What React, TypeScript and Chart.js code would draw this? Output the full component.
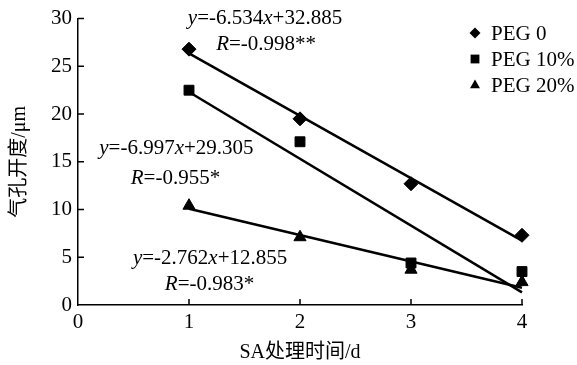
import React, { useEffect, useRef } from 'react';
import { Chart, registerables } from 'chart.js';

Chart.register(...registerables);

// ---- data ----
const days = [1, 2, 3, 4];
const peg0 = [26.8, 19.5, 12.7, 7.3];
const peg10 = [22.5, 17.1, 4.4, 3.5];
const peg20 = [10.4, 7.1, 3.7, 2.4];
const trendDays = [1, 4];
const trend0 = [26.35, 6.75];
const trend10 = [22.31, 1.32];
const trend20 = [10.09, 1.81];
const seriesNames = ['PEG 0', 'PEG 10%', 'PEG 20%'];
const xTitle = 'SA处理时间/d';
const yTitle = '气孔开度/μm';
const eq0 = [['y', true], ['=-6.534', false], ['x', true], ['+32.885', false]];
const r0 = [['R', true], ['=-0.998**', false]];
const eq10 = [['y', true], ['=-6.997', false], ['x', true], ['+29.305', false]];
const r10 = [['R', true], ['=-0.955*', false]];
const eq20 = [['y', true], ['=-2.762', false], ['x', true], ['+12.855', false]];
const r20 = [['R', true], ['=-0.983*', false]];

const FONT = '"Liberation Serif", "Times New Roman", "Noto Sans CJK SC", serif';
const FS = 21;

type Seg = (string | boolean)[];

function drawRich(ctx: CanvasRenderingContext2D, segs: Seg[], cx: number, cy: number) {
  const widths: number[] = [];
  let total = 0;
  segs.forEach((s) => {
    ctx.font = `${s[1] ? 'italic ' : ''}${FS}px ${FONT}`;
    const w = ctx.measureText(s[0] as string).width;
    widths.push(w);
    total += w;
  });
  let x = cx - total / 2;
  ctx.textBaseline = 'middle';
  ctx.textAlign = 'left';
  ctx.fillStyle = '#000';
  segs.forEach((s, i) => {
    ctx.font = `${s[1] ? 'italic ' : ''}${FS}px ${FONT}`;
    ctx.fillText(s[0] as string, x, cy);
    x += widths[i];
  });
}

function marker(ctx: CanvasRenderingContext2D, kind: number, x: number, y: number, r: number) {
  ctx.beginPath();
  if (kind === 0) {
    ctx.moveTo(x - r, y);
    ctx.lineTo(x, y - r);
    ctx.lineTo(x + r, y);
    ctx.lineTo(x, y + r);
  } else if (kind === 1) {
    const s = r * 0.8;
    ctx.rect(x - s, y - s, 2 * s, 2 * s);
  } else {
    ctx.moveTo(x, y - r);
    ctx.lineTo(x + r * 0.9, y + r * 0.6);
    ctx.lineTo(x - r * 0.9, y + r * 0.6);
  }
  ctx.closePath();
  ctx.fillStyle = '#000';
  ctx.fill();
}

const decorPlugin = {
  id: 'decor',
  afterDraw(chart: any) {
    const ctx: CanvasRenderingContext2D = chart.ctx;
    const xs = chart.scales.x;
    const ys = chart.scales.y;
    const area = chart.chartArea;
    ctx.save();
    // inward tick marks
    ctx.strokeStyle = '#000';
    ctx.lineWidth = 1.5;
    ctx.beginPath();
    ys.ticks.forEach((t: any) => {
      if (t.value === 0) return;
      const py = ys.getPixelForValue(t.value);
      ctx.moveTo(area.left, py);
      ctx.lineTo(area.left + 6, py);
    });
    xs.ticks.forEach((t: any) => {
      if (t.value === 0) return;
      const px = xs.getPixelForValue(t.value);
      ctx.moveTo(px, area.bottom);
      ctx.lineTo(px, area.bottom - 6);
    });
    ctx.stroke();

    // equation annotations (placed in data space)
    const P = (vx: number, vy: number): [number, number] => [xs.getPixelForValue(vx), ys.getPixelForValue(vy)];
    const items: [Seg[], number, number][] = [
      [eq0, 1.685, 30.0],
      [r0, 1.695, 27.3],
      [eq10, 0.887, 16.35],
      [r10, 0.878, 13.23],
      [eq20, 1.19, 4.9],
      [r20, 1.185, 2.1],
    ];
    items.forEach(([segs, vx, vy]) => {
      const [px, py] = P(vx, vy);
      drawRich(ctx, segs, px, py);
    });

    // legend
    const lx = 475;
    const ly = [33, 59, 85];
    seriesNames.forEach((name, i) => {
      marker(ctx, i, lx, ly[i], 5.5);
      ctx.font = `${FS}px ${FONT}`;
      ctx.textBaseline = 'middle';
      ctx.textAlign = 'left';
      ctx.fillStyle = '#000';
      ctx.fillText(name, lx + 16, ly[i] + 1);
    });
    ctx.restore();
  },
};

const pts = (xsArr: number[], ysArr: number[]) => xsArr.map((x, i) => ({ x, y: ysArr[i] }));

export default function App() {
  const ref = useRef<HTMLCanvasElement>(null);
  useEffect(() => {
    document.body.style.margin = '0';
    const canvas = ref.current!;
    const scatterCommon = {
      showLine: false,
      pointBackgroundColor: '#000',
      pointBorderColor: '#000',
      pointBorderWidth: 1,
      clip: false as any,
      order: 0,
    };
    const lineCommon = {
      showLine: true,
      borderColor: '#000',
      borderWidth: 2.5,
      pointRadius: 0,
      fill: false,
      clip: false as any,
      order: 1,
    };
    const chart = new Chart(canvas, {
      type: 'scatter',
      data: {
        datasets: [
          { ...scatterCommon, label: seriesNames[0], data: pts(days, peg0), pointStyle: 'rectRot', pointRadius: 7 },
          { ...scatterCommon, label: seriesNames[1], data: pts(days, peg10), pointStyle: 'rect', pointRadius: 7 },
          { ...scatterCommon, label: seriesNames[2], data: pts(days, peg20), pointStyle: 'triangle', pointRadius: 7 },
          { ...lineCommon, label: 'fit0', data: pts(trendDays, trend0) },
          { ...lineCommon, label: 'fit10', data: pts(trendDays, trend10) },
          { ...lineCommon, label: 'fit20', data: pts(trendDays, trend20) },
        ] as any,
      },
      options: {
        animation: false,
        responsive: false,
        devicePixelRatio: 1,
        layout: { padding: { left: 0, top: 17, right: 55, bottom: 0 } },
        font: { family: FONT, size: FS } as any,
        color: '#000',
        plugins: {
          legend: { display: false },
          tooltip: { enabled: false },
        },
        scales: {
          x: {
            type: 'linear',
            min: 0,
            max: 4,
            ticks: { stepSize: 1, color: '#000', font: { family: FONT, size: FS }, padding: 5 },
            grid: { drawOnChartArea: false, drawTicks: false },
            border: { display: true, color: '#000', width: 1.5 },
            title: { display: true, text: xTitle, color: '#000', font: { family: FONT, size: 20 }, padding: { top: 0, bottom: 0 } },
            afterFit: (s: any) => { s.height = 60; },
          },
          y: {
            type: 'linear',
            min: 0,
            max: 30,
            ticks: { stepSize: 5, color: '#000', font: { family: FONT, size: FS }, padding: 6 },
            grid: { drawOnChartArea: false, drawTicks: false },
            border: { display: true, color: '#000', width: 1.5 },
            title: { display: true, text: yTitle, color: '#000', font: { family: FONT, size: 20 }, padding: { top: 8, bottom: 0 } },
            afterFit: (s: any) => { s.width = 78; },
          },
        },
      },
      plugins: [decorPlugin],
    });
    return () => chart.destroy();
  }, []);
  return <canvas ref={ref} width={577} height={365} style={{ display: 'block' }} />;
}
